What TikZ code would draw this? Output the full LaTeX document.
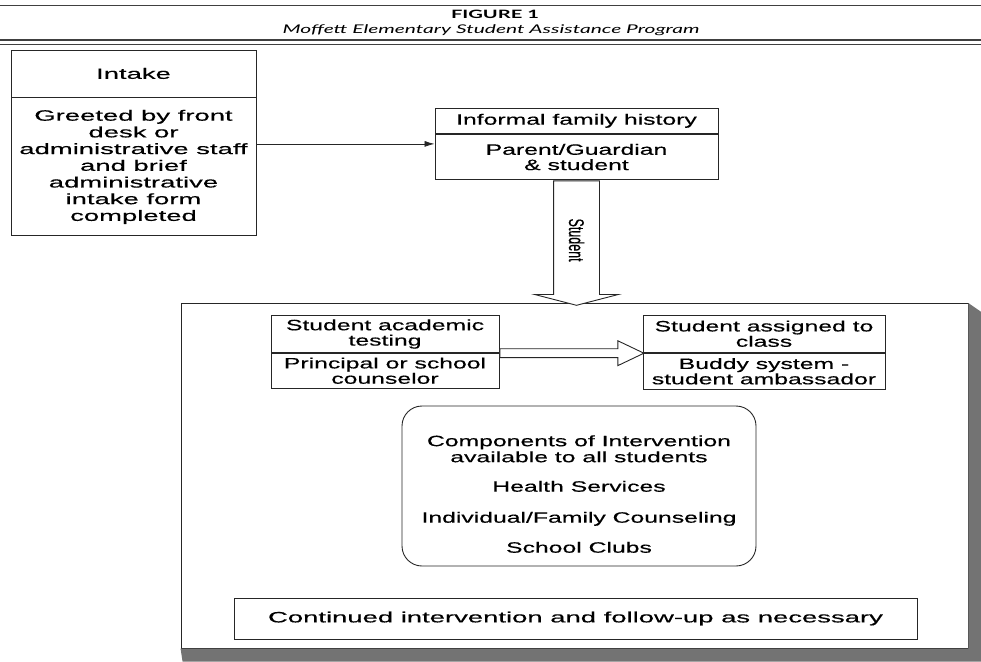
\documentclass[tikz,border=0pt]{standalone}
\usepackage{fontspec}
\setmainfont{Liberation Sans}[FakeStretch=1.65,FakeBold=0.4]
\newfontfamily\widefont{Liberation Sans}[FakeStretch=1.83,FakeBold=0.4]
\newfontfamily\plainfont{Liberation Sans}[FakeBold=0.4]
\newfontfamily\titlefont{Lato}[FakeStretch=1.75]
\usetikzlibrary{positioning,shapes.arrows,arrows.meta}
\colorlet{inkgray}{black!85}
\colorlet{shadowgray}{black!55}

\begin{document}
\begin{tikzpicture}[x=1pt,y=-1pt,
    box/.style={rectangle,draw=inkgray,line width=0.9pt,inner sep=0pt,align=center,
      font=\fontsize{15}{15.3}\selectfont},
    widebox/.style={box,font=\widefont\fontsize{15}{16.7}\selectfont},
    hollow/.style={single arrow,draw=inkgray,line width=0.9pt,fill=white,anchor=tail},
    rule/.style={draw=black!75}]
    \useasboundingbox (0,0) rectangle (981,661);

    % header
    \draw[rule,line width=0.7pt] (0,5) -- (981,5);
    \node[font=\titlefont\bfseries\fontsize{11.5}{12}\selectfont] (fig) at (495,14) {FIGURE 1};
    \node[font=\titlefont\itshape\fontsize{12}{12}\selectfont] (caption) at (491,30) {Moffett Elementary Student Assistance Program};
    \draw[rule,line width=1.1pt] (0,40) -- (981,40);
    \draw[rule,line width=0.6pt] (0,44) -- (981,44);

    % intake
    \node[widebox,minimum width=245pt,minimum height=47pt] (intake) at (133.5,73.5) {Intake};
    \node[widebox,minimum width=245pt,minimum height=138pt,below=0pt of intake] (intakebody) {Greeted by front\\desk or\\administrative staff\\and brief\\administrative\\intake form\\completed};

    % family history
    \node[box,minimum width=283pt,minimum height=25pt] (family) at (576.5,120.8) {Informal family history};
    \node[box,minimum width=283pt,minimum height=45.7pt,below=0pt of family] (familybody) {Parent/Guardian\\\& student};
    \draw[-{Latex[length=10pt,width=6pt]},inkgray,line width=0.8pt] ([yshift=23pt]intakebody.east) -- ([yshift=23pt]intakebody.east -| familybody.west);

    % panel
    \node[draw=inkgray,line width=0.9pt,inner sep=0pt,minimum width=787pt,minimum height=344.5pt] (panel) at (574.5,475.8) {};
    \fill[shadowgray] (panel.south west) -- (panel.south east) -- (panel.north east) -- ([shift={(13pt,-9pt)}]panel.north east) -- ([shift={(13pt,-13pt)}]panel.south east) -- ([shift={(2pt,-13pt)}]panel.south west) -- cycle;
    \node[hollow,rotate=-90,minimum height=124.5pt,text height=15pt,text depth=0pt,inner ysep=15pt,inner xsep=2pt,single arrow head extend=19pt,single arrow tip angle=151] (studentarrow) at (familybody.south) {\scalebox{1}[1.7]{\plainfont\fontsize{12.5}{13}\selectfont Student}};

    % testing and class
    \node[box,minimum width=228pt,minimum height=36.6pt] (testing) at (385,334) {Student academic\\testing};
    \node[box,minimum width=228pt,minimum height=35pt,below=0pt of testing] (testingbody) {Principal or school\\counselor};
    \node[box,minimum width=242pt,minimum height=37.3pt] (assigned) at (764,333.7) {Student assigned to\\class};
    \node[box,minimum width=242pt,minimum height=36pt,below=0pt of assigned] (assignedbody) {Buddy system -\\student ambassador};
    \node[hollow,minimum height=144pt,text height=0pt,text depth=0pt,inner ysep=4pt,inner xsep=0pt,single arrow head extend=8pt,single arrow tip angle=51] (classarrow) at ([yshift=17.5pt]testingbody.east) {};

    % services
    \node[box,font=\fontsize{15}{16}\selectfont,rounded corners=20pt,minimum width=354pt,minimum height=160pt] (services) at (579,486) {\rule{0pt}{27pt}Components of Intervention\\available to all students\\[13.5pt]Health Services\\[15pt]Individual/Family Counseling\\[14pt]School Clubs};

    % follow-up
    \node[widebox,minimum width=683pt,minimum height=41pt] (followup) at (575.5,618.5) {Continued intervention and follow-up as necessary};
\end{tikzpicture}
\end{document}
